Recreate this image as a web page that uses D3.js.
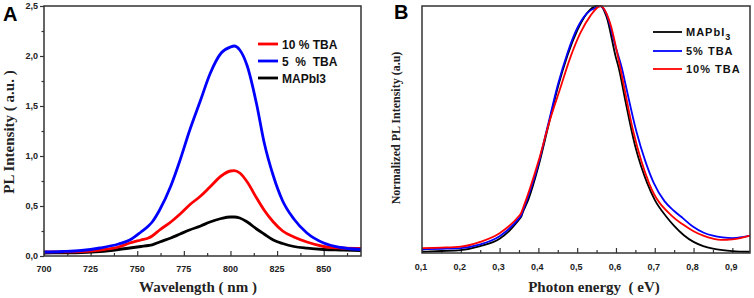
<!DOCTYPE html>
<html>
<head>
<meta charset="utf-8">
<script src="https://cdn.jsdelivr.net/npm/d3@7"></script>
<style>
  body { margin: 0; background: #fff; }
  svg { display: block; }
  .tick-label { font-family: Arial, "Liberation Sans", sans-serif; font-weight: bold; font-size: 9px; fill: #222; }
  .axis-title { font-family: "Times New Roman", "Liberation Serif", serif; font-weight: bold; fill: #222; }
  .legend { font-family: Arial, "Liberation Sans", sans-serif; font-weight: bold; fill: #111; white-space: pre; }
  .panel-letter { font-family: Arial, "Liberation Sans", sans-serif; font-weight: bold; font-size: 20px; fill: #000; }
</style>
</head>
<body>
<div id="chart"></div>
<script>
//////////
// DATA //
//////////

// panel A : PL intensity vs wavelength
var wavelengths = [700, 710, 720, 730, 740, 746, 752, 756, 758, 762, 768, 773, 778, 784, 789,
                   795, 800, 802, 805, 809, 814, 818, 823, 828, 834, 841, 850, 859, 870];
var tba5_A   = [0.040, 0.045, 0.055, 0.080, 0.120, 0.160, 0.240, 0.300, 0.340, 0.460, 0.700, 0.960, 1.250, 1.560, 1.820,
                2.030, 2.090, 2.100, 2.060, 1.900, 1.520, 1.140, 0.800, 0.550, 0.370, 0.230, 0.130, 0.085, 0.065];
var tba10_A  = [0.040, 0.042, 0.045, 0.060, 0.090, 0.130, 0.160, 0.180, 0.200, 0.260, 0.340, 0.420, 0.510, 0.600, 0.690,
                0.800, 0.850, 0.853, 0.830, 0.740, 0.580, 0.460, 0.340, 0.250, 0.190, 0.140, 0.095, 0.080, 0.075];
var mapbi3_A = [0.030, 0.032, 0.035, 0.045, 0.065, 0.080, 0.095, 0.105, 0.112, 0.140, 0.180, 0.220, 0.260, 0.300, 0.340,
                0.375, 0.390, 0.390, 0.380, 0.340, 0.270, 0.220, 0.160, 0.125, 0.095, 0.078, 0.065, 0.060, 0.055];
var yTicksA = [0, 0.5, 1.0, 1.5, 2.0, 2.5];
var xTicksA = [700, 725, 750, 775, 800, 825, 850];

// panel B : normalized PL vs photon energy
var energyMAPbI3 = [0.10, 0.15, 0.20, 0.25, 0.30, 0.325, 0.35, 0.355, 0.36, 0.375, 0.40, 0.425, 0.45, 0.475, 0.50, 0.525,
                    0.55, 0.56, 0.575, 0.60, 0.607, 0.625, 0.641, 0.65, 0.665, 0.68, 0.70, 0.731, 0.75, 0.775, 0.80, 0.825, 0.85, 0.875, 0.90, 0.945];
var mapbi3_B = [0.005, 0.008, 0.012, 0.028, 0.058, 0.090, 0.135, 0.145, 0.165, 0.220, 0.350, 0.510, 0.670, 0.800, 0.900, 0.970,
                1.000, 1.000, 0.960, 0.790, 0.750, 0.610, 0.490, 0.430, 0.350, 0.285, 0.215, 0.145, 0.110, 0.072, 0.045, 0.028, 0.018, 0.012, 0.008, 0.005];

var energy5 = [0.10, 0.15, 0.20, 0.25, 0.30, 0.35, 0.355, 0.36, 0.40, 0.425, 0.45, 0.475, 0.50, 0.525, 0.55, 0.56, 0.575,
               0.60, 0.615, 0.625, 0.653, 0.675, 0.697, 0.725, 0.75, 0.773, 0.80, 0.825, 0.85, 0.875, 0.90, 0.925, 0.945];
var tba5_B = [0.015, 0.017, 0.020, 0.035, 0.068, 0.140, 0.150, 0.170, 0.360, 0.520, 0.680, 0.810, 0.910, 0.970, 0.995, 1.000, 0.970,
              0.830, 0.750, 0.680, 0.490, 0.375, 0.285, 0.210, 0.170, 0.140, 0.105, 0.083, 0.070, 0.063, 0.060, 0.064, 0.070];

var energy10 = [0.10, 0.15, 0.20, 0.25, 0.30, 0.35, 0.355, 0.36, 0.40, 0.43, 0.456, 0.482, 0.508, 0.534, 0.56, 0.585,
                0.611, 0.645, 0.686, 0.744, 0.773, 0.80, 0.825, 0.85, 0.87, 0.90, 0.925, 0.945];
var tba10_B = [0.020, 0.022, 0.026, 0.045, 0.080, 0.150, 0.160, 0.180, 0.370, 0.540, 0.665, 0.790, 0.890, 0.960, 1.000, 0.930,
               0.750, 0.490, 0.280, 0.150, 0.115, 0.088, 0.070, 0.058, 0.053, 0.055, 0.062, 0.070];
var xTicksB = [0.1, 0.2, 0.3, 0.4, 0.5, 0.6, 0.7, 0.8, 0.9];

var svg = d3.select("#chart").append("svg")
  .attr("width", 754)
  .attr("height", 298);

function fmt(v, digits) {
  return v.toFixed(digits).replace(".", ",");
}

/////////////
// PANEL A //
/////////////

var boxA = { left: 44, right: 361, top: 6, bottom: 256 };

var xA = d3.scaleLinear().domain([700, 870]).range([boxA.left, boxA.right]);
var yA = d3.scaleLinear().domain([0, 2.5]).range([boxA.bottom, boxA.top]);

var gA = svg.append("g");

// bottom axis, ticks pointing inward
var xAxisA = d3.axisBottom(xA).tickValues(d3.range(700, 870, 12.5)).tickSize(-5).tickFormat("");
gA.append("g").attr("transform", "translate(0," + boxA.bottom + ")").call(xAxisA);
gA.selectAll(".tick").filter(function (d) { return xTicksA.indexOf(d) < 0; }).select("line").attr("y2", -3);

// left axis, ticks pointing outward
var yAxisA = d3.axisLeft(yA).tickValues(d3.range(0, 2.51, 0.25)).tickSize(4).tickFormat("");
var gyA = gA.append("g").attr("transform", "translate(" + boxA.left + ",0)").call(yAxisA);
gyA.selectAll(".tick").filter(function (d) { return Math.abs(d * 2 - Math.round(d * 2)) > 0.01; })
  .select("line").attr("x2", -2.5);

gA.selectAll(".domain").remove();
gA.selectAll(".tick line").attr("stroke", "#333").attr("stroke-width", 1.2);

gA.selectAll(".xlabA").data(xTicksA).enter().append("text")
  .attr("class", "tick-label")
  .attr("x", function (d) { return xA(d); })
  .attr("y", 272)
  .attr("text-anchor", "middle")
  .text(function (d) { return d; });

gA.selectAll(".ylabA").data(yTicksA).enter().append("text")
  .attr("class", "tick-label")
  .attr("x", boxA.left - 6)
  .attr("y", function (d) { return yA(d) + 3; })
  .attr("text-anchor", "end")
  .text(function (d) { return fmt(d, 1); });

var lineA = function (ys) {
  return d3.line()
    .x(function (d, i) { return xA(wavelengths[i]); })
    .y(function (d) { return yA(d); })
    .curve(d3.curveMonotoneX)(ys);
};

[[mapbi3_A, "#000"], [tba10_A, "#ff0000"], [tba5_A, "#0000ff"]].forEach(function (s) {
  gA.append("path")
    .attr("d", lineA(s[0]))
    .attr("fill", "none")
    .attr("stroke", s[1])
    .attr("stroke-width", 2.8);
});

gA.append("rect")
  .attr("x", boxA.left).attr("y", boxA.top)
  .attr("width", boxA.right - boxA.left).attr("height", boxA.bottom - boxA.top)
  .attr("fill", "none").attr("stroke", "#333").attr("stroke-width", 1.5);

gA.append("text").attr("class", "axis-title")
  .attr("x", 198).attr("y", 292).attr("text-anchor", "middle").style("font-size", "15px")
  .text("Wavelength ( nm )");

gA.append("text").attr("class", "axis-title")
  .attr("transform", "translate(14,132) rotate(-90)")
  .attr("text-anchor", "middle").style("font-size", "15px")
  .text("PL Intensity ( a.u. )");

gA.append("text").attr("class", "panel-letter").attr("x", 3).attr("y", 21).text("A");

// legend A
var legendA = [["10 % TBA", "#ff0000"], ["5  %  TBA", "#0000ff"], ["MAPbI3", "#000"]];
legendA.forEach(function (d, i) {
  var y = 44 + i * 17;
  gA.append("line").attr("x1", 258).attr("x2", 278).attr("y1", y).attr("y2", y)
    .attr("stroke", d[1]).attr("stroke-width", 2.8);
  gA.append("text").attr("class", "legend").attr("x", 282).attr("y", y + 4.5)
    .style("font-size", "12px").text(d[0]);
});

/////////////
// PANEL B //
/////////////

var boxB = { left: 422, right: 750, top: 6, bottom: 253 };

var xB = d3.scaleLinear().domain([0.1, 0.9455]).range([boxB.left, boxB.right]);
var yB = d3.scaleLinear().domain([0, 1]).range([boxB.bottom, boxB.top]);

var gB = svg.append("g");

var xAxisB = d3.axisBottom(xB).tickValues(d3.range(0.1, 0.95, 0.05)).tickSize(-5).tickFormat("");
gB.append("g").attr("transform", "translate(0," + boxB.bottom + ")").call(xAxisB);
gB.selectAll(".tick").filter(function (d) { return Math.abs(d * 10 - Math.round(d * 10)) > 0.01; })
  .select("line").attr("y2", -3);
gB.selectAll(".domain").remove();
gB.selectAll(".tick line").attr("stroke", "#333").attr("stroke-width", 1.2);

gB.selectAll(".xlabB").data(xTicksB).enter().append("text")
  .attr("class", "tick-label")
  .attr("x", function (d) { return xB(d) - 1; })
  .attr("y", 270)
  .attr("text-anchor", "middle")
  .text(function (d) { return fmt(d, 1); });

var lineB = function (xs, ys) {
  return d3.line()
    .x(function (d, i) { return xB(xs[i]); })
    .y(function (d) { return yB(d); })
    .curve(d3.curveMonotoneX)(ys);
};

[[energyMAPbI3, mapbi3_B, "#000"], [energy5, tba5_B, "#0000ff"], [energy10, tba10_B, "#ff0000"]].forEach(function (s) {
  gB.append("path")
    .attr("d", lineB(s[0], s[1]))
    .attr("fill", "none")
    .attr("stroke", s[2])
    .attr("stroke-width", 1.8);
});

gB.append("rect")
  .attr("x", boxB.left).attr("y", boxB.top)
  .attr("width", boxB.right - boxB.left).attr("height", boxB.bottom - boxB.top)
  .attr("fill", "none").attr("stroke", "#333").attr("stroke-width", 1.5);

gB.append("text").attr("class", "axis-title")
  .attr("x", 594).attr("y", 292).attr("text-anchor", "middle").style("font-size", "15px")
  .style("white-space", "pre")
  .text("Photon energy  ( eV)");

gB.append("text").attr("class", "axis-title")
  .attr("transform", "translate(400,128) rotate(-90)")
  .attr("text-anchor", "middle").style("font-size", "12px")
  .text("Normalized PL Intensity (a.u)");

gB.append("text").attr("class", "panel-letter").attr("x", 394).attr("y", 19).text("B");

// legend B
var legendB = [["MAPbI", "3", "#000"], ["5% TBA", "", "#0000ff"], ["10% TBA", "", "#ff0000"]];
var legendY = [32, 51, 69];
legendB.forEach(function (d, i) {
  var y = legendY[i];
  gB.append("line").attr("x1", 653).attr("x2", 682).attr("y1", y).attr("y2", y)
    .attr("stroke", d[2]).attr("stroke-width", 1.8);
  var t = gB.append("text").attr("class", "legend").attr("x", 686).attr("y", y + 4)
    .style("font-size", "11px").style("letter-spacing", "1px").text(d[0]);
  if (d[1]) {
    t.append("tspan").attr("dy", 4).style("font-size", "9px").text(d[1]);
  }
});
</script>
</body>
</html>
